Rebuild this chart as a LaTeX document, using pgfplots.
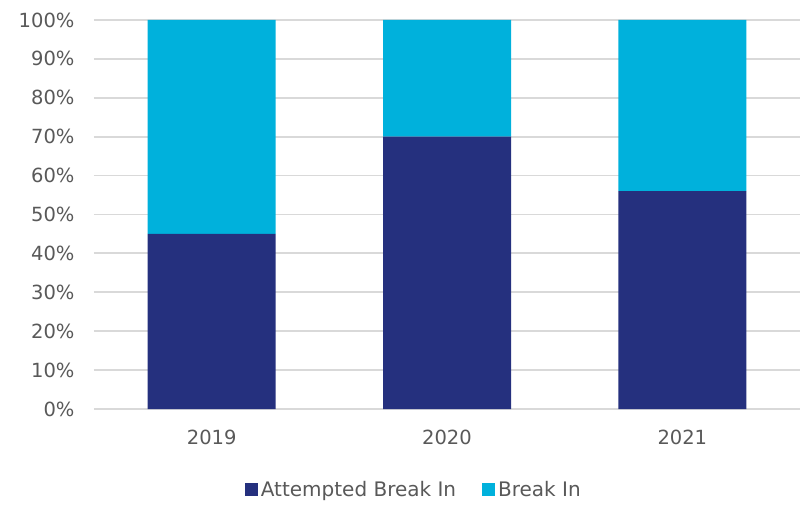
\documentclass[border=0pt]{standalone}
\usepackage{pgfplots}
\pgfplotsset{compat=1.18}
\usepackage{fontspec}
\setmainfont{DejaVu Sans}
\definecolor{navy}{HTML}{25307E}
\definecolor{sky}{HTML}{00B1DC}
\definecolor{gridc}{HTML}{D9D9D9}
\definecolor{txt}{HTML}{595959}
\begin{document}
\begin{tikzpicture}
\begin{axis}[
  scale only axis,
  width=706bp, height=389bp,
  ybar stacked,
  bar width=128bp,
  xmin=-0.5, xmax=2.5,
  ymin=0, ymax=100,
  xtick=data,
  xticklabels={2019,2020,2021},
  ytick={0,10,...,100},
  yticklabel={\pgfmathprintnumber{\tick}\%},
  /pgf/number format/assume math mode=true,
  ymajorgrids,
  grid style={gridc, line width=1.8bp},
  axis line style={draw=none},
  axis x line*=bottom,
  x axis line style={gridc, line width=1.8bp},
  axis y line*=left,
  y axis line style={draw=none},
  major tick length=0pt,
  tick label style={txt, font=\fontsize{19.5bp}{22bp}\selectfont},
  yticklabel style={xshift=-16bp},
  xticklabel style={yshift=-18bp},
  legend style={draw=none, at={(rel axis cs:0.453,0)}, anchor=north, yshift=-68bp,
    font=\fontsize{20bp}{22bp}\selectfont, text=txt,
    /tikz/every odd column/.append style={column sep=1bp},
    /tikz/every even column/.append style={column sep=24bp}},
  legend columns=2,
]
\addplot[fill=navy, draw=none, legend image code/.code={\fill[navy] (0bp,-6.5bp) rectangle (13bp,6.5bp);}] coordinates {(0,45) (1,70) (2,56)};
\addplot[fill=sky, draw=none, legend image code/.code={\fill[sky] (0bp,-6.5bp) rectangle (13bp,6.5bp);}] coordinates {(0,55) (1,30) (2,44)};
\legend{Attempted Break In, Break In}
\end{axis}
\path (current axis.south west) ++(-94bp,-97bp) coordinate (bl);
\path (current axis.north east) ++(1bp,20bp) coordinate (tr);
\path[use as bounding box] (bl) rectangle (tr);
\end{tikzpicture}
\end{document}
